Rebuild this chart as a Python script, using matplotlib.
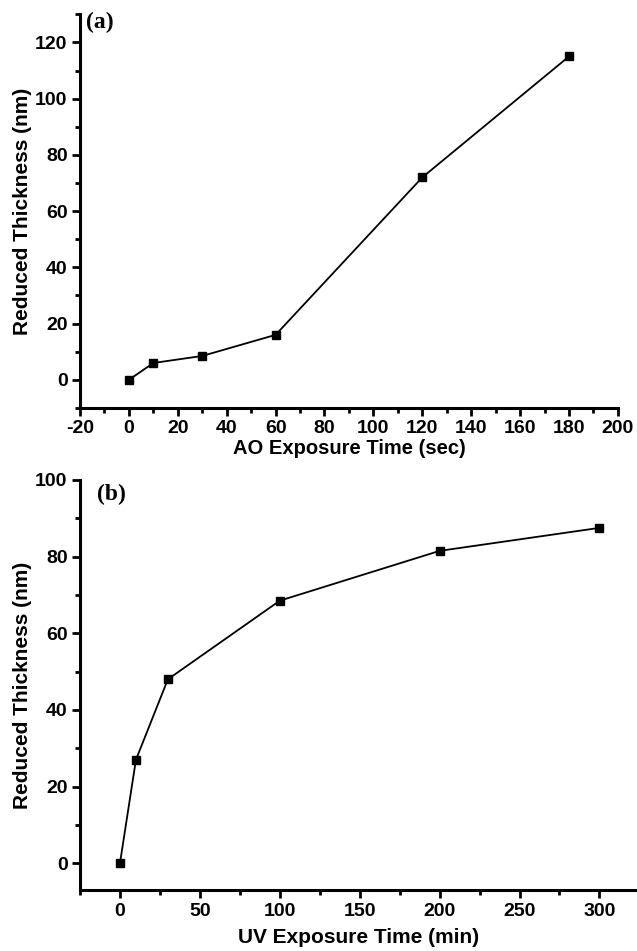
import matplotlib
matplotlib.use("Agg")
import matplotlib.pyplot as plt
from matplotlib.ticker import MultipleLocator

plt.rcParams['font.family'] = ['Liberation Sans', 'DejaVu Sans']
plt.rcParams['font.weight'] = 'bold'
plt.rcParams['axes.unicode_minus'] = False

# panel (a): atomic oxygen exposure
ao_time = [0, 10, 30, 60, 120, 180]
ao_thick = [0, 6, 8.5, 16, 72, 115]

# panel (b): UV exposure
uv_time = [0, 10, 30, 100, 200, 300]
uv_thick = [0, 27, 48, 68.5, 81.5, 87.5]


def style_axis(ax, xmaj, xmin, ymaj, ymin):
    for side in ("top", "right"):
        ax.spines[side].set_visible(False)
    for side in ("left", "bottom"):
        ax.spines[side].set_linewidth(2.2)
    ax.xaxis.set_major_locator(MultipleLocator(xmaj))
    ax.xaxis.set_minor_locator(MultipleLocator(xmin))
    ax.yaxis.set_major_locator(MultipleLocator(ymaj))
    ax.yaxis.set_minor_locator(MultipleLocator(ymin))
    ax.tick_params(which="major", length=6, width=2, labelsize=14, direction="out", pad=3)
    ax.tick_params(which="minor", length=3.5, width=2, direction="out")
    for lab in ax.get_xticklabels() + ax.get_yticklabels():
        lab.set_fontweight("bold")


fig = plt.figure(figsize=(6.37, 9.51), dpi=100)

ax1 = fig.add_axes([0.1256, 0.571, 0.8444, 0.414])
ax1.plot(ao_time, ao_thick, color="black", lw=1.3, marker="s", ms=6)
ax1.set_xlim(-20, 200)
ax1.set_ylim(-10, 130)
style_axis(ax1, 20, 10, 20, 10)
ax1.set_xlabel("AO Exposure Time (sec)", fontsize=14.5, fontweight="bold", labelpad=1)
ax1.set_ylabel("Reduced Thickness (nm)", fontsize=15, fontweight="bold", labelpad=2)
ax1.text(0.012, 1.005, "(a)", transform=ax1.transAxes, fontsize=17, fontweight="bold",
         family="Liberation Serif", va="top", ha="left")

ax2 = fig.add_axes([0.1256, 0.0641, 0.8744, 0.4312])
ax2.plot(uv_time, uv_thick, color="black", lw=1.3, marker="s", ms=6)
ax2.set_xlim(-25, 323.5)
ax2.set_ylim(-7, 100)
style_axis(ax2, 50, 25, 20, 10)
ax2.set_xlabel("UV Exposure Time (min)", fontsize=15, fontweight="bold", labelpad=6)
ax2.set_ylabel("Reduced Thickness (nm)", fontsize=15, fontweight="bold", labelpad=2)
ax2.text(0.03, 0.99, "(b)", transform=ax2.transAxes, fontsize=17, fontweight="bold",
         family="Liberation Serif", va="top", ha="left")

fig.savefig("out.png", dpi=100)
